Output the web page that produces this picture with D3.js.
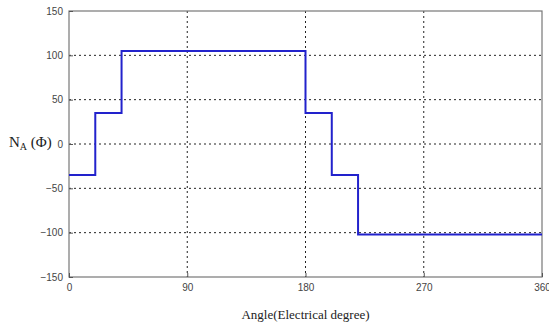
<!DOCTYPE html>
<html>
<head>
<meta charset="utf-8">
<script src="https://cdn.jsdelivr.net/npm/d3@7"></script>
<style>
  body { margin: 0; background: #fff; }
  svg { display: block; }
</style>
</head>
<body>
<div id="chart"></div>
<script>
// step edges (electrical degrees) and NA level on each segment
const angles = [0, 20, 40, 180, 200, 220, 360];
const levels = [-35, 35, 105, 35, -35, -102];
const xTicks = [0, 90, 180, 270, 360];
const yTicks = [-150, -100, -50, 0, 50, 100, 150];

const margin = { top: 11, right: 7, bottom: 49, left: 69 };
const W = 549, H = 326;
const width = W - margin.left - margin.right;
const height = H - margin.top - margin.bottom;

const svg = d3.select('#chart').append('svg')
  .attr('width', W).attr('height', H);

const g = svg.append('g')
  .attr('transform', `translate(${margin.left},${margin.top})`);

const x = d3.scaleLinear().domain([0, 360]).range([0, width]);
const y = d3.scaleLinear().domain([-150, 150]).range([height, 0]);

// grid
g.append('g').selectAll('line')
  .data(xTicks.slice(1, -1))
  .join('line')
  .attr('x1', d => x(d)).attr('x2', d => x(d))
  .attr('y1', 0).attr('y2', height)
  .attr('stroke', '#222').attr('stroke-width', 1)
  .attr('stroke-dasharray', '2,3');

g.append('g').selectAll('line')
  .data(yTicks.slice(1, -1))
  .join('line')
  .attr('x1', 0).attr('x2', width)
  .attr('y1', d => y(d)).attr('y2', d => y(d))
  .attr('stroke', '#222').attr('stroke-width', 1)
  .attr('stroke-dasharray', '2,3');

// box
g.append('rect')
  .attr('width', width).attr('height', height)
  .attr('fill', 'none').attr('stroke', '#777').attr('stroke-width', 1.2);

// axes (inward ticks)
const xAxis = g.append('g')
  .attr('transform', `translate(0,${height})`)
  .call(d3.axisBottom(x).tickValues(xTicks).tickSize(-4).tickPadding(7).tickFormat(d3.format('d')));
const yAxis = g.append('g')
  .call(d3.axisLeft(y).tickValues(yTicks).tickSize(-4).tickPadding(6).tickFormat(d3.format('d')));

[xAxis, yAxis].forEach(a => {
  a.select('.domain').remove();
  a.selectAll('.tick line').attr('stroke', '#555');
  a.selectAll('.tick text')
    .attr('fill', '#444')
    .attr('font-family', 'Liberation Sans, Arial, sans-serif')
    .attr('font-size', 10);
});

// step line
const pts = [];
levels.forEach((v, i) => {
  pts.push([angles[i], v]);
  pts.push([angles[i + 1], v]);
});

g.append('path')
  .datum(pts)
  .attr('fill', 'none')
  .attr('stroke', '#2222cc')
  .attr('stroke-width', 2)
  .attr('d', d3.line().x(d => x(d[0])).y(d => y(d[1])));

// labels
svg.append('text')
  .attr('x', margin.left + width / 2)
  .attr('y', 319)
  .attr('text-anchor', 'middle')
  .attr('font-family', 'Liberation Serif, Times New Roman, serif')
  .attr('font-size', 13)
  .attr('fill', '#222')
  .text('Angle(Electrical degree)');

const yl = svg.append('text')
  .attr('x', 9)
  .attr('y', 147)
  .attr('font-family', 'Liberation Serif, Times New Roman, serif')
  .attr('font-size', 15)
  .attr('fill', '#222');
yl.append('tspan').text('N');
yl.append('tspan').attr('font-size', 10).attr('dy', 3).text('A');
yl.append('tspan').attr('dy', -3).text(' (Φ)');
</script>
</body>
</html>
